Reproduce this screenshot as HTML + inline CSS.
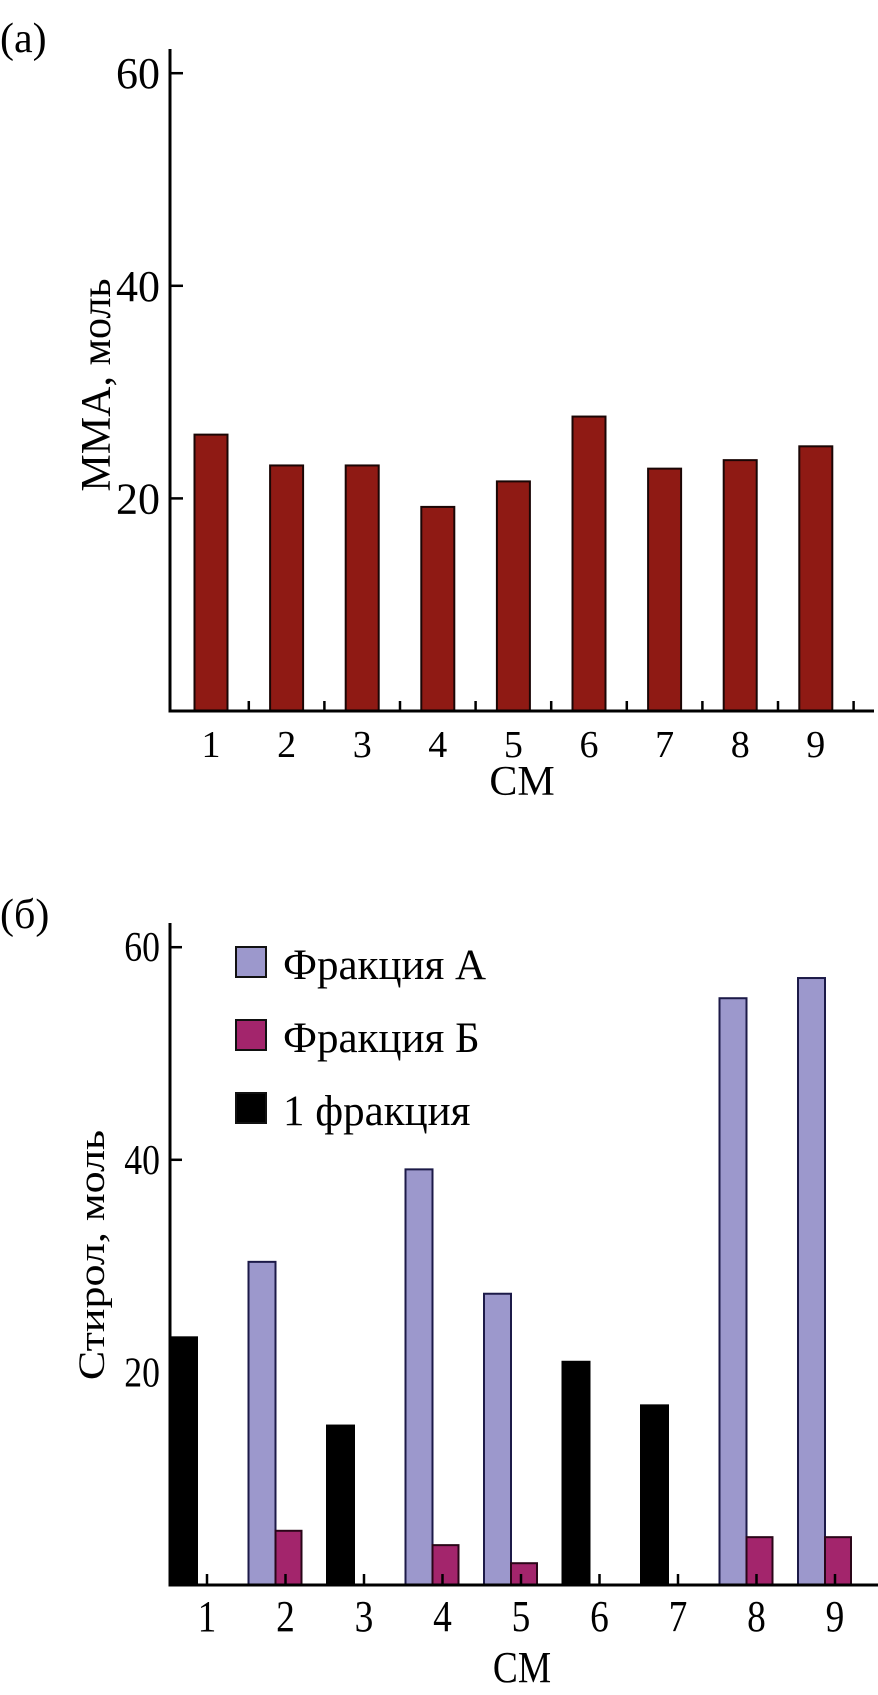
<!DOCTYPE html>
<html><head><meta charset="utf-8"><style>
html,body{margin:0;padding:0;background:#fff;}
svg{display:block;font-family:"Liberation Serif",serif;}
</style></head><body>
<svg id="fig" width="878" height="1695" viewBox="0 0 878 1695" xmlns="http://www.w3.org/2000/svg">
<text x="0" y="52" font-size="42">(a)</text>
<text x="0" y="928" font-size="42">(б)</text>
<g id="chartA"></g>
<g id="chartB"></g>
</svg>
<script>
const categories = ["1","2","3","4","5","6","7","8","9"];
const mmaValues = [26.0, 23.1, 23.1, 19.2, 21.6, 27.7, 22.8, 23.6, 24.9];
const yTicksA = [20, 40, 60];
const fracA = [0, 30.4, 0, 39.1, 27.4, 0, 0, 55.2, 57.1];
const fracB = [0, 5.1, 0, 3.75, 2.05, 0, 0, 4.5, 4.5];
const frac1 = [23.3, 0, 15.0, 0, 0, 21.0, 16.9, 0, 0];
const yTicksB = [20, 40, 60];
const legendLabels = ["Фракция А", "Фракция Б", "1 фракция"];

const NS = "http://www.w3.org/2000/svg";
function mk(parent, tag, attrs, text){
  const e = document.createElementNS(NS, tag);
  for (const k in attrs) e.setAttribute(k, attrs[k]);
  if (text !== undefined) e.textContent = text;
  parent.appendChild(e);
  return e;
}
const gA = document.getElementById('chartA');
const gB = document.getElementById('chartB');

// ---------- Chart A ----------
const A = {x0:170, y0:711, k:10.63, c0:211, step:75.6, w:33};
const yA = v => A.y0 - v * A.k;
const xA = i => A.c0 + A.step * i;

mmaValues.forEach((v, i) => {
  const r = mk(gA, 'rect', {x: xA(i) - A.w/2, y: yA(v), width: A.w, height: A.y0 - yA(v), fill: '#8f1a14', stroke: '#1a0605', 'stroke-width': 2});
  
  
});
let l = mk(gA, 'line', {x1: A.x0, y1: 49, x2: A.x0, y2: A.y0 + 1.5, stroke: '#000', 'stroke-width': 3});


l = mk(gA, 'line', {x1: A.x0 - 1.5, y1: A.y0, x2: 874, y2: A.y0, stroke: '#000', 'stroke-width': 3});


yTicksA.forEach(t => {
  const tk = mk(gA, 'line', {x1: A.x0, y1: yA(t), x2: A.x0 + 13, y2: yA(t), stroke: '#000', 'stroke-width': 2.5});
  
  
  const tl = mk(gA, 'text', {x: 160, y: yA(t) + 15, 'font-size': 44, 'text-anchor': 'end'}, String(t));
  
  
});
categories.forEach((c, i) => {
  const mx = xA(i) + A.step / 2;
  const tk = mk(gA, 'line', {x1: mx, y1: A.y0, x2: mx, y2: A.y0 - 10, stroke: '#000', 'stroke-width': 2.5});
  
  
  const tl = mk(gA, 'text', {x: xA(i), y: A.y0 + 46, 'font-size': 38, 'text-anchor': 'middle'}, c);
  
  
});
let t = mk(gA, 'text', {x: 522, y: 795, 'font-size': 42, 'text-anchor': 'middle'}, 'CM');


t = mk(gA, 'text', {x: 0, y: 0, 'font-size': 42, 'text-anchor': 'middle', transform: 'translate(110,385) rotate(-90)'}, 'MMA, моль');



// ---------- Chart B ----------
const B = {x0:170, y0:1585, k:10.63, c0:207, step:78.5};
const yB = v => B.y0 - v * B.k;
const xB = i => B.c0 + B.step * i;
function barB(x, w, v, fill, stroke, name){
  if (v <= 0) return;
  const r = mk(gB, 'rect', {x: x, y: yB(v), width: w, height: B.y0 - yB(v), fill: fill, stroke: stroke, 'stroke-width': 2});
  
  
}
categories.forEach((c, i) => {
  const cx = xB(i);
  barB(cx - 37, 27, frac1[i], '#000', '#000', 'bar-frac1-' + c);
  barB(cx - 37, 27, fracA[i], '#9c98cc', '#1c1a48', 'bar-fracA-' + c);
  barB(cx - 10, 26, fracB[i], '#a3256c', '#2a0618', 'bar-fracB-' + c);
});
l = mk(gB, 'line', {x1: B.x0, y1: 923, x2: B.x0, y2: B.y0 + 1.5, stroke: '#000', 'stroke-width': 3});


l = mk(gB, 'line', {x1: B.x0 - 1.5, y1: B.y0, x2: 878, y2: B.y0, stroke: '#000', 'stroke-width': 3});


yTicksB.forEach(tv => {
  const tk = mk(gB, 'line', {x1: B.x0, y1: yB(tv), x2: B.x0 + 12, y2: yB(tv), stroke: '#000', 'stroke-width': 2.5});
  
  
  const tl = mk(gB, 'text', {x: 0, y: 0, 'font-size': 42, 'text-anchor': 'end', transform: 'translate(160,' + (yB(tv) + 14) + ') scale(0.85,1)'}, String(tv));
  
  
});
categories.forEach((c, i) => {
  const cx = xB(i);
  const tk = mk(gB, 'line', {x1: cx, y1: B.y0, x2: cx, y2: B.y0 - 11, stroke: '#000', 'stroke-width': 2.5});
  
  
  const tl = mk(gB, 'text', {x: 0, y: 0, 'font-size': 44, 'text-anchor': 'middle', transform: 'translate(' + cx + ',' + (B.y0 + 46) + ') scale(0.85,1)'}, c);
  
  
});
t = mk(gB, 'text', {x: 0, y: 0, 'font-size': 44, 'text-anchor': 'middle', transform: 'translate(522,1682) scale(0.85,1)'}, 'CM');


t = mk(gB, 'text', {x: 0, y: 0, 'font-size': 44, 'text-anchor': 'middle', transform: 'translate(104,1255) rotate(-90) scale(1,0.85)'}, 'Стирол, моль');



const legFill = ['#9c98cc', '#a3256c', '#000'];
legendLabels.forEach((lab, i) => {
  const y = 947 + 73 * i;
  const sq = mk(gB, 'rect', {x: 236, y: y, width: 30, height: 30, fill: legFill[i], stroke: '#111', 'stroke-width': 2});
  
  
  const tx = mk(gB, 'text', {x: 283, y: y + 32, 'font-size': 43}, lab);
  
  
});
</script>
</body></html>
